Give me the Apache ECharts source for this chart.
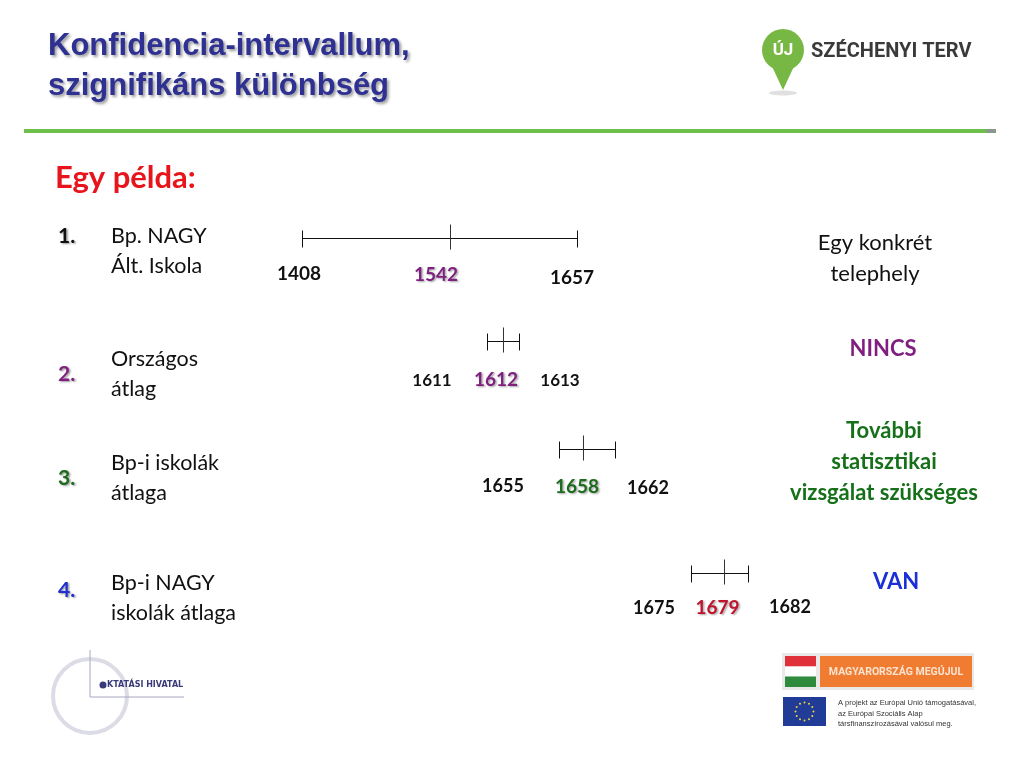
<!DOCTYPE html>
<html>
<head>
<meta charset="utf-8">
<script src="https://cdn.jsdelivr.net/npm/echarts@6/dist/echarts.min.js"></script>
<style>
html,body{margin:0;padding:0;background:#fff;}
#chart{width:1024px;height:768px;}
</style>
</head>
<body>
<div id="chart"></div>
<script>
// ---- data ----
const rowNumbers = ['1.', '2.', '3.', '4.'];
const rowLabels = [['Bp. NAGY', 'Ált. Iskola'], ['Országos', 'átlag'], ['Bp-i iskolák', 'átlaga'], ['Bp-i NAGY', 'iskolák átlaga']];
const lowValues = [1408, 1611, 1655, 1675];
const meanValues = [1542, 1612, 1658, 1679];
const highValues = [1657, 1613, 1662, 1682];
const verdicts = [['Egy konkrét', 'telephely'], ['NINCS'], ['További', 'statisztikai', 'vizsgálat szükséges'], ['VAN']];
const titleLines = ['Konfidencia-intervallum,', 'szignifikáns különbség'];
const subtitle = 'Egy példa:';

// ---- layout / styles (kept separate from the data) ----
const FONT = 'Lato, "Open Sans", sans-serif';
const rowLayout = [
  { left: 302, width: 275, y: 238, numY: 236, labY: 236, verdictY: 243, verdictX: 875,
    numColor: '#111', meanColor: '#7F1F7F', verdictColor: '#111', verdictWeight: 'normal',
    lowDx: -3, meanDx: -14, highDx: -5, lowDy: 35, meanDy: 36, highDy: 39, size: 19, meanSize: 19 },
  { left: 487, width: 32, y: 341, numY: 374, labY: 359, verdictY: 349, verdictX: 883,
    numColor: '#7F1F7F', meanColor: '#7F1F7F', verdictColor: '#7F1F7F', verdictWeight: 'bold',
    lowDx: -55, meanDx: -7, highDx: 41, lowDy: 39, meanDy: 38, highDy: 39, size: 17, meanSize: 19 },
  { left: 559, width: 56, y: 449, numY: 478, labY: 463, verdictY: 431, verdictX: 884,
    numColor: '#1D6B1D', meanColor: '#1D6B1D', verdictColor: '#16701A', verdictWeight: 'bold',
    lowDx: -56, meanDx: -6, highDx: 33, lowDy: 37, meanDy: 37, highDy: 39, size: 18, meanSize: 19 },
  { left: 691, width: 57, y: 573, numY: 590, labY: 583, verdictY: 582, verdictX: 896,
    numColor: '#1F2FD0', meanColor: '#C0142C', verdictColor: '#1A2FD6', verdictWeight: 'bold',
    lowDx: -37, meanDx: -6, highDx: 42, lowDy: 35, meanDy: 34, highDy: 34, size: 18, meanSize: 19 }
];

const shadow = (c, b, o) => ({ textShadowColor: c, textShadowBlur: b, textShadowOffsetX: o, textShadowOffsetY: o });

const grids = [], xAxes = [], yAxes = [], series = [];
rowLayout.forEach((L, i) => {
  grids.push({ left: L.left, width: L.width, top: L.y - 20, height: 40 });
  xAxes.push({ type: 'value', gridIndex: i, min: lowValues[i], max: highValues[i], show: false });
  yAxes.push({ type: 'value', gridIndex: i, min: -1, max: 1, show: false });
  series.push({
    type: 'custom', xAxisIndex: i, yAxisIndex: i, silent: true,
    data: [[lowValues[i], meanValues[i], highValues[i]]],
    renderItem: function (params, api) {
      const lo = api.coord([api.value(0), 0]);
      const md = api.coord([api.value(1), 0]);
      const hi = api.coord([api.value(2), 0]);
      const y = Math.round(lo[1]) + 0.5;
      const ls = { stroke: '#111', lineWidth: 1 };
      const r = v => Math.round(v) + 0.5;
      const txt = (x, yy, t, col, size, sh) => ({
        type: 'text', x: x, y: yy,
        style: Object.assign({ text: t, fill: col, font: 'bold ' + size + 'px ' + FONT, align: 'center', verticalAlign: 'middle' },
          sh ? shadow('rgba(0,0,0,0.35)', 2, 1.5) : {})
      });
      return {
        type: 'group', children: [
          { type: 'line', shape: { x1: r(lo[0]), y1: y, x2: r(hi[0]), y2: y }, style: ls },
          { type: 'line', shape: { x1: r(lo[0]), y1: y - 8, x2: r(lo[0]), y2: y + 9 }, style: ls },
          { type: 'line', shape: { x1: r(hi[0]), y1: y - 8, x2: r(hi[0]), y2: y + 9 }, style: ls },
          { type: 'line', shape: { x1: r(md[0]), y1: y - 14, x2: r(md[0]), y2: y + 11 }, style: { stroke: '#333', lineWidth: 1 } },
          txt(lo[0] + L.lowDx, y + L.lowDy, String(api.value(0)), '#111', L.size, false),
          txt(md[0] + L.meanDx, y + L.meanDy, String(api.value(1)), L.meanColor, L.meanSize, true),
          txt(hi[0] + L.highDx, y + L.highDy, String(api.value(2)), '#111', L.size, false)
        ]
      };
    }
  });
});

// ---- static texts & decorations ----
const graphics = [];
titleLines.forEach((t, i) => graphics.push({
  type: 'text', x: 48, y: 46 + i * 40,
  style: Object.assign({ text: t, fill: '#2E3192', font: 'bold 31px "Liberation Sans", Arial, sans-serif', verticalAlign: 'middle' },
    shadow('rgba(0,0,0,0.4)', 3, 2))
}));
// green rule
graphics.push({ type: 'rect', shape: { x: 24, y: 129, width: 966, height: 4 }, style: { fill: '#6DBE4B' } });
graphics.push({ type: 'rect', shape: { x: 986, y: 129, width: 10, height: 4 }, style: { fill: '#8A9A8A' } });
// logo
graphics.push({ type: 'ellipse', shape: { cx: 783, cy: 93, rx: 14, ry: 2.5 }, style: { fill: 'rgba(0,0,0,0.12)' } });
graphics.push({ type: 'polygon', shape: { points: [[770, 62], [796, 62], [783, 90]] }, style: { fill: '#76B843' } });
graphics.push({ type: 'circle', shape: { cx: 783, cy: 50, r: 21 }, style: { fill: '#76B843' } });
graphics.push({ type: 'text', x: 783, y: 51, style: { text: 'ÚJ', fill: '#fff', font: 'bold 17px Roboto, sans-serif', align: 'center', verticalAlign: 'middle' } });
graphics.push({ type: 'text', x: 811, y: 52, style: { text: 'SZÉCHENYI TERV', fill: '#3A3A3A', font: 'bold 20px Roboto, sans-serif', verticalAlign: 'middle' } });
// subtitle
graphics.push({ type: 'text', x: 55, y: 178, style: { text: subtitle, fill: '#E8141C', font: 'bold 31px ' + FONT, verticalAlign: 'middle' } });
// rows
rowLayout.forEach((L, i) => {
  graphics.push({ type: 'text', x: 58, y: L.numY, style: Object.assign({ text: rowNumbers[i], fill: L.numColor, font: 'bold 21px ' + FONT, verticalAlign: 'middle' },
    shadow('rgba(0,0,0,0.4)', 2, 1.5)) });
  rowLabels[i].forEach((t, j) => graphics.push({ type: 'text', x: 111, y: L.labY + j * 30,
    style: { text: t, fill: '#111', font: '21.5px ' + FONT, verticalAlign: 'middle' } }));
  verdicts[i].forEach((t, j) => graphics.push({ type: 'text', x: L.verdictX, y: L.verdictY + j * 31,
    style: { text: t, fill: L.verdictColor, font: L.verdictWeight + ' 22px ' + FONT, align: 'center', verticalAlign: 'middle' } }));
});
// Oktatási Hivatal logo
graphics.push({ type: 'circle', shape: { cx: 90, cy: 696, r: 37 }, style: { fill: 'none', stroke: '#DCDCE6', lineWidth: 4 } });
graphics.push({ type: 'line', shape: { x1: 90, y1: 650, x2: 90, y2: 697 }, style: { stroke: '#A8A8C0', lineWidth: 1 } });
graphics.push({ type: 'line', shape: { x1: 90, y1: 697, x2: 184, y2: 697 }, style: { stroke: '#A8A8C0', lineWidth: 1 } });
graphics.push({ type: 'circle', shape: { cx: 103, cy: 685, r: 3.5 }, style: { fill: '#3A3A7A' } });
graphics.push({ type: 'text', x: 107, y: 685, style: { text: 'KTATÁSI HIVATAL', fill: '#3A3A7A', font: 'bold 8px "DejaVu Sans", sans-serif', verticalAlign: 'middle' } });
// Magyarország megújul
graphics.push({ type: 'rect', shape: { x: 782, y: 653, width: 192, height: 37 }, style: { fill: '#E9E9E9' } });
graphics.push({ type: 'rect', shape: { x: 785, y: 656, width: 31, height: 10.5 }, style: { fill: '#E0303A' } });
graphics.push({ type: 'rect', shape: { x: 785, y: 666.5, width: 31, height: 10 }, style: { fill: '#FFFFFF' } });
graphics.push({ type: 'rect', shape: { x: 785, y: 676.5, width: 31, height: 10.5 }, style: { fill: '#2E8B3E' } });
graphics.push({ type: 'rect', shape: { x: 820, y: 656, width: 152, height: 31 }, style: { fill: '#F07C32' } });
graphics.push({ type: 'text', x: 896, y: 672, style: { text: 'MAGYARORSZÁG MEGÚJUL', fill: '#FBE3CF', font: 'bold 10.5px Roboto, sans-serif', align: 'center', verticalAlign: 'middle' } });
// EU flag
graphics.push({ type: 'rect', shape: { x: 783, y: 697, width: 43, height: 29 }, style: { fill: '#203C96' } });
for (let k = 0; k < 12; k++) {
  const a = k * Math.PI / 6;
  graphics.push({ type: 'circle', shape: { cx: 804.5 + 9 * Math.cos(a), cy: 711.5 + 9 * Math.sin(a), r: 1 }, style: { fill: '#F5D33A' } });
}
['A projekt az Európai Unió támogatásával,', 'az Európai Szociális Alap', 'társfinanszírozásával valósul meg.'].forEach((t, j) =>
  graphics.push({ type: 'text', x: 838, y: 703 + j * 10.5, style: { text: t, fill: '#333', font: '7.5px "Liberation Sans", Arial, sans-serif', verticalAlign: 'middle' } }));

const chart = echarts.init(document.getElementById('chart'));
chart.setOption({
  backgroundColor: '#ffffff',
  animation: false,
  grid: grids, xAxis: xAxes, yAxis: yAxes, series: series,
  graphic: { elements: graphics }
});
</script>
</body>
</html>
